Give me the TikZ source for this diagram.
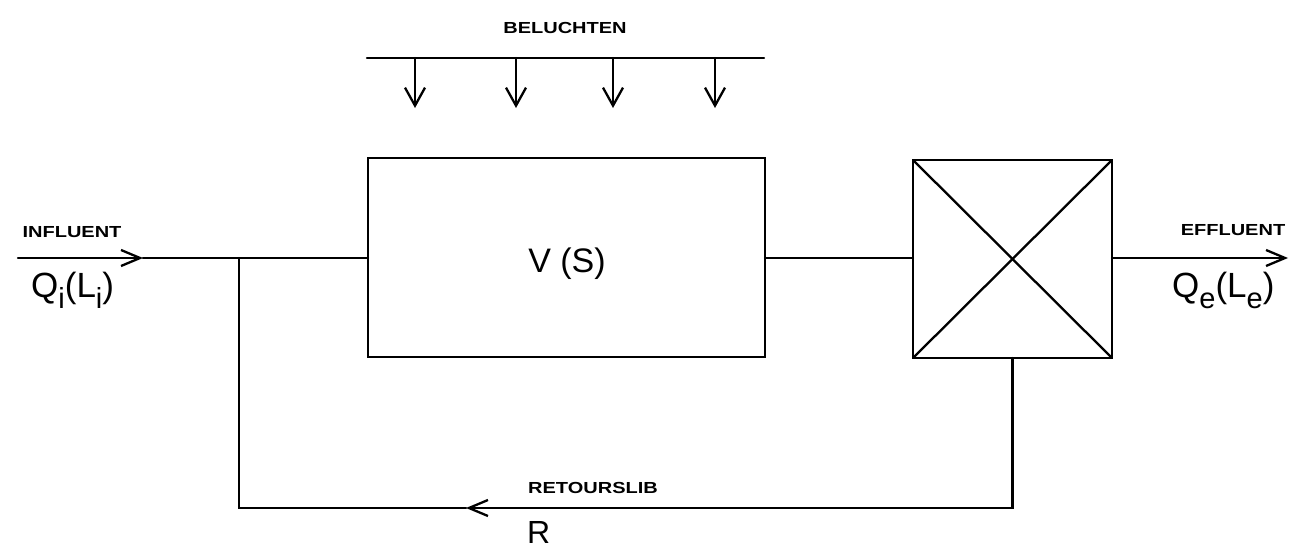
\documentclass[tikz,border=0pt]{standalone}
\usepackage{fontspec}
\setmainfont{Liberation Sans}
\newfontfamily\widebold[FakeStretch=1.25]{Liberation Sans Bold}
\usetikzlibrary{arrows.meta}
\newcommand{\lowsub}[1]{\raisebox{-0.32em}{\fontsize{29}{29}\selectfont #1}}
\tikzset{
  ln/.style={line width=2.3pt, line cap=round, line join=miter},
  barb/.style={-{Straight Barb[length=19pt,width=16pt,line width=2.3pt]}},
  barbdown/.style={-{Straight Barb[length=18pt,width=20pt,line width=2.3pt]}},
  boxnode/.style={draw, line width=2.3pt, inner sep=0pt, outer sep=0pt},
  lbl/.style={font=\widebold\fontsize{16}{18}\selectfont, inner sep=0pt},
  big/.style={font=\fontsize{35}{38}\selectfont, inner sep=0pt},
}
\begin{document}
\begin{tikzpicture}[x=1pt,y=-1pt]
\useasboundingbox (0,0) rectangle (1296,551);
% boxes
\node[boxnode, minimum width=397pt, minimum height=199pt] (tank) at (566.5,257.5) {};
\node[boxnode, minimum width=199pt, minimum height=198pt] (clar) at (1012.5,259) {};
\draw[ln] (clar.north west) -- (clar.south east);
\draw[ln] (clar.south west) -- (clar.north east);
\node[big, anchor=base, font=\fontsize{34}{36}\selectfont] (vs) at (567,272) {V (S)};
% aeration
\coordinate (bl) at (367,58);
\coordinate (br) at (764,58);
\draw[ln] (bl) -- (br);
\foreach \x/\n in {415/a1,516/a2,613/a3,715/a4}{
  \coordinate (\n top) at (\x,58);
  \coordinate (\n tip) at (\x,108);
  \draw[ln, barbdown] (\n top) -- (\n tip);
}
\node[lbl] (belu) at (565,28) {BELUCHTEN};
% influent
\coordinate (in0) at (18,258);
\coordinate (inA) at (143,258);
\coordinate (junc) at (239,258);
\draw[ln, barb] (in0) -- (inA);
\draw[ln] (inA) -- (junc) -- (tank.west |- junc);
\node[lbl] (infl) at (72,232) {INFLUENT};
\node[big, anchor=base west] (qi) at (31,297) {Q\lowsub{i}(L\lowsub{i})};
% tank -> clarifier
\draw[ln] (tank.east |- junc) -- (clar.west |- junc);
% effluent
\coordinate (out) at (1288,258);
\draw[ln, barb] (clar.east |- junc) -- (out);
\node[lbl] (effl) at (1233,230) {EFFLUENT};
\node[big, anchor=base west] (qe) at (1172,297) {Q\lowsub{e}(L\lowsub{e})};
% return sludge
\coordinate (rc) at (1012.5,508);
\coordinate (rA) at (466,508);
\coordinate (rl) at (239,508);
\draw[ln, barb] (clar.south) -- (rc) -- (rA);
\draw[ln] (rA) -- (rl) -- (junc);
\node[lbl] (ret) at (593,488) {RETOURSLIB};
\node[big, anchor=base west, font=\fontsize{32}{34}\selectfont] (r) at (527,543) {R};
\end{tikzpicture}
\end{document}
